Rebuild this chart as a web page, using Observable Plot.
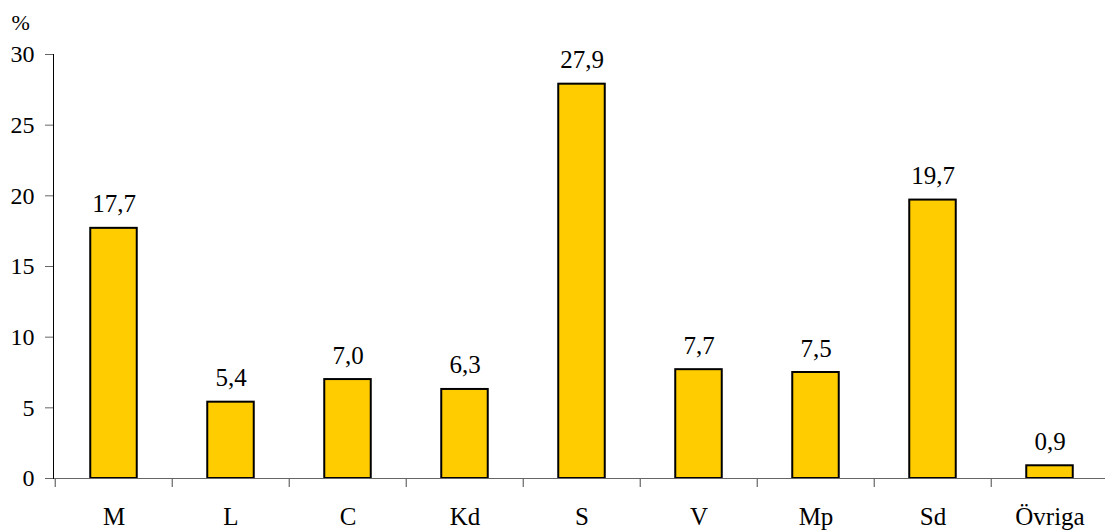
<!DOCTYPE html>
<html>
<head>
<meta charset="utf-8">
<script src="https://cdn.jsdelivr.net/npm/d3@7"></script>
<script src="https://cdn.jsdelivr.net/npm/@observablehq/plot@0.6"></script>
<style>
  html, body { margin: 0; padding: 0; background: #fff; }
  svg, svg text { font-family: "Liberation Serif", "Times New Roman", Times, serif !important; }
</style>
</head>
<body>
<div id="chart"></div>
<script>
const categories = ["M", "L", "C", "Kd", "S", "V", "Mp", "Sd", "Övriga"];
const values = [17.7, 5.4, 7.0, 6.3, 27.9, 7.7, 7.5, 19.7, 0.9];
const yTicks = [0, 5, 10, 15, 20, 25, 30];
const unitLabel = "%";

const data = categories.map((c, i) => ({cat: c, value: values[i]}));
const fmt = v => v.toFixed(1).replace(".", ",");

const left = 53, right = 1110.5;
const step = (right - left) / categories.length;
const barW = 47;
const inset = (step - barW) / 2;

const chart = Plot.plot({
  width: 1105,
  height: 530,
  marginLeft: left,
  marginRight: 0,
  marginTop: 54,
  marginBottom: 52,
  style: {fontFamily: "'Liberation Serif', 'Times New Roman', serif", fontSize: "24px", color: "#000", background: "#fff"},
  x: {type: "band", domain: categories, range: [left, right], padding: 0},
  y: {domain: [0, 30]},
  marks: [
    Plot.barY(data, {x: "cat", y: "value", fill: "#FFCC00", stroke: "#000", strokeWidth: 2, insetLeft: inset, insetRight: inset}),
    Plot.ruleY([0], {stroke: "#666", strokeWidth: 1.2}),
    Plot.ruleX(categories, {x: d => d, y1: 0, y2: -0.63, dx: -step / 2, stroke: "#666", strokeWidth: 1.2}),
    Plot.frame({anchor: "left", stroke: "#000"}),
    Plot.axisY({ticks: yTicks, tickSize: 8, tickPadding: 11, tickFormat: d => d, label: null, stroke: "#666", fontSize: 24}),
    Plot.axisX({tickSize: 0, tickPadding: 29, label: null, fontSize: 25}),
    Plot.text(data, {x: "cat", y: "value", text: d => fmt(d.value), lineAnchor: "bottom", dy: -16, fontSize: 25, fill: "#000"}),
    Plot.text([unitLabel], {frameAnchor: "top-left", text: d => d, textAnchor: "start", lineAnchor: "middle", dx: -42, dy: -32, fontSize: 22, fill: "#000"})
  ]
});
document.getElementById("chart").appendChild(chart);
</script>
</body>
</html>
